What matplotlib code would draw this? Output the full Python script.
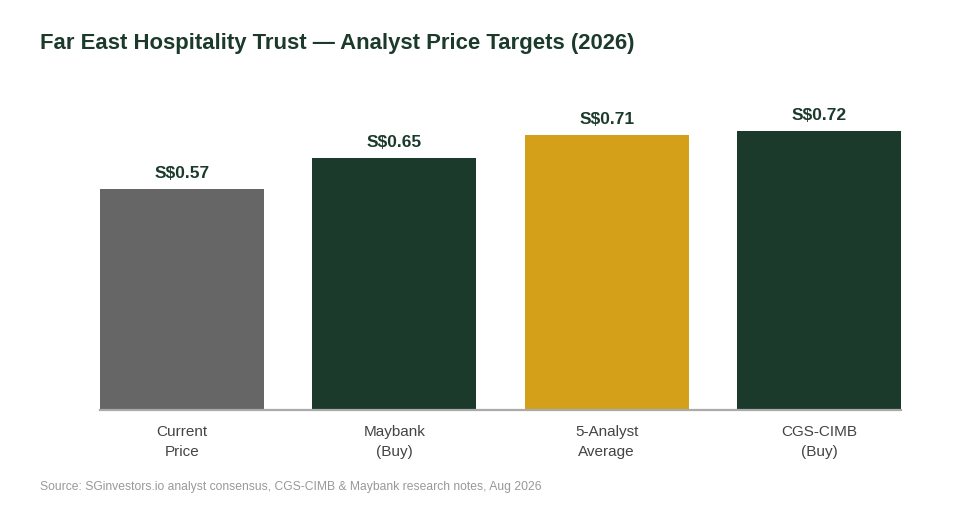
import matplotlib
matplotlib.use("Agg")
import matplotlib.pyplot as plt

categories = ["Current\nPrice", "Maybank\n(Buy)", "5-Analyst\nAverage", "CGS-CIMB\n(Buy)"]
values = [0.57, 0.65, 0.71, 0.72]
value_labels = ["S$0.57", "S$0.65", "S$0.71", "S$0.72"]
colors = ["#666666", "#1b3a2b", "#d4a01a", "#1b3a2b"]

plt.rcParams['font.family'] = ['Liberation Sans', 'DejaVu Sans']

fig = plt.figure(figsize=(9.6, 5.2), dpi=100)
ax = fig.add_axes([100/960, 110/520, 801/960, 310/520])
x = range(len(categories))
w = 0.77
bars = ax.bar(x, values, width=w, color=colors)
ax.set_xlim(-w/2, len(categories) - 1 + w/2)
ax.set_ylim(0, 0.8)
for xi, v, lab in zip(x, values, value_labels):
    ax.annotate(lab, (xi, v), xytext=(0, 6), textcoords="offset points",
                ha="center", va="bottom", fontsize=12.5, fontweight="bold", color="#1b3a2b")
ax.set_xticks(list(x))
ax.set_xticklabels(categories, fontsize=11, color="#444444", linespacing=1.6)
ax.tick_params(axis="x", length=0, pad=10.5)
ax.set_yticks([])
for s in ["top", "right", "left"]:
    ax.spines[s].set_visible(False)
ax.spines["bottom"].set_color("#aaaaaa")
ax.spines["bottom"].set_linewidth(1.6)

fig.text(40/960, 1 - 43/520, "Far East Hospitality Trust — Analyst Price Targets (2026)",
         fontsize=15.9, fontweight="bold", color="#1b3a2b", ha="left", va="center")
fig.text(40/960, 1 - 487/520, "Source: SGinvestors.io analyst consensus, CGS-CIMB & Maybank research notes, Aug 2026",
         fontsize=8.7, color="#999999", ha="left", va="center")

fig.savefig("out.png", dpi=100, facecolor="white")
